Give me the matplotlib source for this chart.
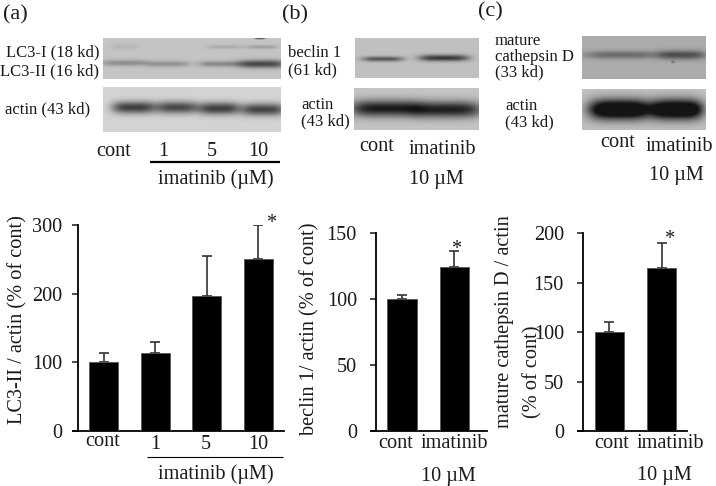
import numpy as np
import matplotlib
matplotlib.use("Agg")
import matplotlib.pyplot as plt

W, H = 716, 486

plt.rcParams['font.family'] = ['Liberation Serif', 'DejaVu Serif']
plt.rcParams['mathtext.fontset'] = 'stix'

# bar charts
a_labels = ["cont", "1", "5", "10"]
a_values = [100, 113, 197, 250]
a_tops = [114, 130, 255, 300]
a_ticks = [0, 100, 200, 300]

b_labels = ["cont", "imatinib"]
b_values = [100, 124]
b_tops = [103, 136]
b_ticks = [0, 50, 100, 150]

c_labels = ["cont", "imatinib"]
c_values = [100, 165]
c_tops = [110, 190]
c_ticks = [0, 50, 100, 150, 200]

# blots: (x center, y center, half width, half height, darkness), in image pixels
a_top_bands = [(125, 63, 24, 3, 55), (168, 64, 22, 3, 50), (220, 64, 22, 3, 60), (262, 64, 24, 4, 125),
               (125, 47, 14, 3, 12), (225, 47, 18, 2, 25), (262, 47, 16, 2, 35), (260, 38, 5, 1.2, 120)]
a_actin_bands = [(134, 108, 22, 6, 150), (177, 108, 21, 6, 140), (219, 109, 21, 6, 150), (263, 110, 22, 6, 145)]
b_top_bands = [(383, 59, 21, 2.5, 105), (444, 58, 25, 3.2, 135)]
b_actin_bands = [(385, 109, 35, 8, 170), (447, 110, 35, 8, 165)]
c_top_bands = [(622, 55, 38, 4, 65), (682, 55, 24, 4.5, 95), (673, 62, 2, 1.2, 50)]
c_actin_bands = [(620, 110, 31, 9.5, 260), (677, 110, 26, 9.5, 260)]

# (left, right, top, bottom, background gray)
blots = [
    ((103, 281, 38, 79, 196), a_top_bands),
    ((103, 281, 88, 132, 212), a_actin_bands),
    ((355, 479, 38, 78, 192), b_top_bands),
    ((354, 479, 89, 130, 196), b_actin_bands),
    ((582, 706, 36, 79, 172), c_top_bands),
    ((582, 706, 90, 130, 192), c_actin_bands),
]

fig = plt.figure(figsize=(W / 100, H / 100), dpi=100)


def make_bars(box, xlim, labels, values, tops, ticks, pad):
    left, right, top, bottom = box
    ax = fig.add_axes([left / W, 1 - bottom / H, (right - left) / W, (bottom - top) / H])
    x = np.arange(len(labels))
    vals = np.array(values)
    ax.bar(x, vals, width=0.56, color='black', edgecolor='#555555', linewidth=0.6, zorder=3)
    ax.errorbar(x, vals, yerr=[np.zeros(len(vals)), np.array(tops) - vals], fmt='none',
                ecolor='#333333', elinewidth=1.2, capsize=3.5, capthick=1.2, zorder=2)
    ax.set_xlim(*xlim)
    ax.set_ylim(0, ticks[-1])
    ax.set_yticks(ticks)
    ax.set_xticks([])
    ax.tick_params(axis='y', length=4.3, width=1.1, pad=pad, labelsize=14.6, colors='#1a1a1a')
    ax.spines['top'].set_visible(False)
    ax.spines['right'].set_visible(False)
    ax.spines['left'].set_linewidth(1.3)
    ax.spines['bottom'].set_linewidth(1.3)
    ax.spines['bottom'].set_bounds(xlim[0] - 0.1, xlim[1])
    ax.spines['bottom'].set_clip_on(False)
    return ax


make_bars((78, 284, 225, 431), (-0.5, 3.5), a_labels, a_values, a_tops, a_ticks, 7.2)
make_bars((376, 487, 233, 431), (-0.5, 1.63), b_labels, b_values, b_tops, b_ticks, 9.4)
make_bars((583, 687, 233, 431), (-0.5, 1.486), c_labels, c_values, c_tops, c_ticks, 9.4)

# overlay in image pixels for blots and text
ov = fig.add_axes([0, 0, 1, 1], facecolor='none')
ov.set_axis_off()


def draw_blot(box, bands):
    left, right, top, bottom, bg = box
    xs = np.arange(left, right) + 0.5
    ys = np.arange(top, bottom) + 0.5
    gx, gy = np.meshgrid(xs, ys)
    img = np.full(gx.shape, float(bg))
    for xc, yc, hw, hh, dark in bands:
        img -= dark * np.exp(-np.abs((gx - xc) / hw) ** 4) * np.exp(-((gy - yc) / hh) ** 2)
    ov.imshow(np.clip(img, 20, 255), cmap='gray', vmin=0, vmax=255, extent=(left, right, bottom, top),
              aspect='auto', interpolation='bilinear')


for box, bands in blots:
    draw_blot(box, bands)

ov.set_xlim(0, W)
ov.set_ylim(H, 0)


def txt(x, y, s, size=14.6, ha='center', rot=0):
    ov.text(x, y, s, fontsize=size, ha=ha, va='center', rotation=rot, color='#1a1a1a')


# panel letters
txt(3, 15, "(a)", 16, 'left')
txt(282, 15, "(b)", 16, 'left')
txt(478, 12, "(c)", 16, 'left')

# panel a, blot labels
txt(99, 52, "LC3-I (18 kd)", 12, 'right')
txt(99, 71, "LC3-II (16 kd)", 12, 'right')
txt(5, 109, "actin (43 kd)", 12, 'left')
txt(114, 151, "cont")
txt(163, 151, "1")
txt(212, 151, "5")
txt(258, 151, "10")
txt(216, 179, "imatinib (µM)")
ov.plot([150, 280], [162, 162], color='black', lw=1.6, solid_capstyle='butt')

# panel b, blot labels
txt(288, 53, "beclin 1", 12, 'left')
txt(288, 70, "(61 kd)", 12, 'left')
txt(301, 105, "actin", 12, 'left')
txt(301, 121, "(43 kd)", 12, 'left')
txt(377, 146, "cont")
txt(442, 149, "imatinib")
txt(436, 179, "10 µM")

# panel c, blot labels
txt(495, 41, "mature", 12, 'left')
txt(495, 57, "cathepsin D", 12, 'left')
txt(495, 72, "(33 kd)", 12, 'left')
txt(505, 106, "actin", 12, 'left')
txt(505, 122, "(43 kd)", 12, 'left')
txt(618, 142, "cont")
txt(679, 146, "imatinib")
txt(676, 175, "10 µM")

# chart a
txt(18, 320, "LC3-II / actin (% of cont)", rot=90)
txt(103, 441, "cont")
txt(155, 444, "1")
txt(206, 444, "5")
txt(258, 444, "10")
ov.plot([147, 283], [457, 457], color='black', lw=0.8, solid_capstyle='butt')
txt(216, 474, "imatinib (µM)")
txt(271, 223, "*")

# chart b
txt(310, 329, "beclin 1/ actin (% of cont)", rot=90)
txt(396, 443, "cont")
txt(454, 443, "imatinib")
txt(448, 476, "10 µM")
txt(456, 249, "*")

# chart c
txt(504, 322, "mature cathepsin D / actin", rot=90)
txt(533, 372, "(% of cont)", rot=90)
txt(612, 443, "cont")
txt(670, 443, "imatinib")
txt(664, 475, "10 µM")
txt(669, 239, "*")

fig.savefig("out.png", dpi=100)
